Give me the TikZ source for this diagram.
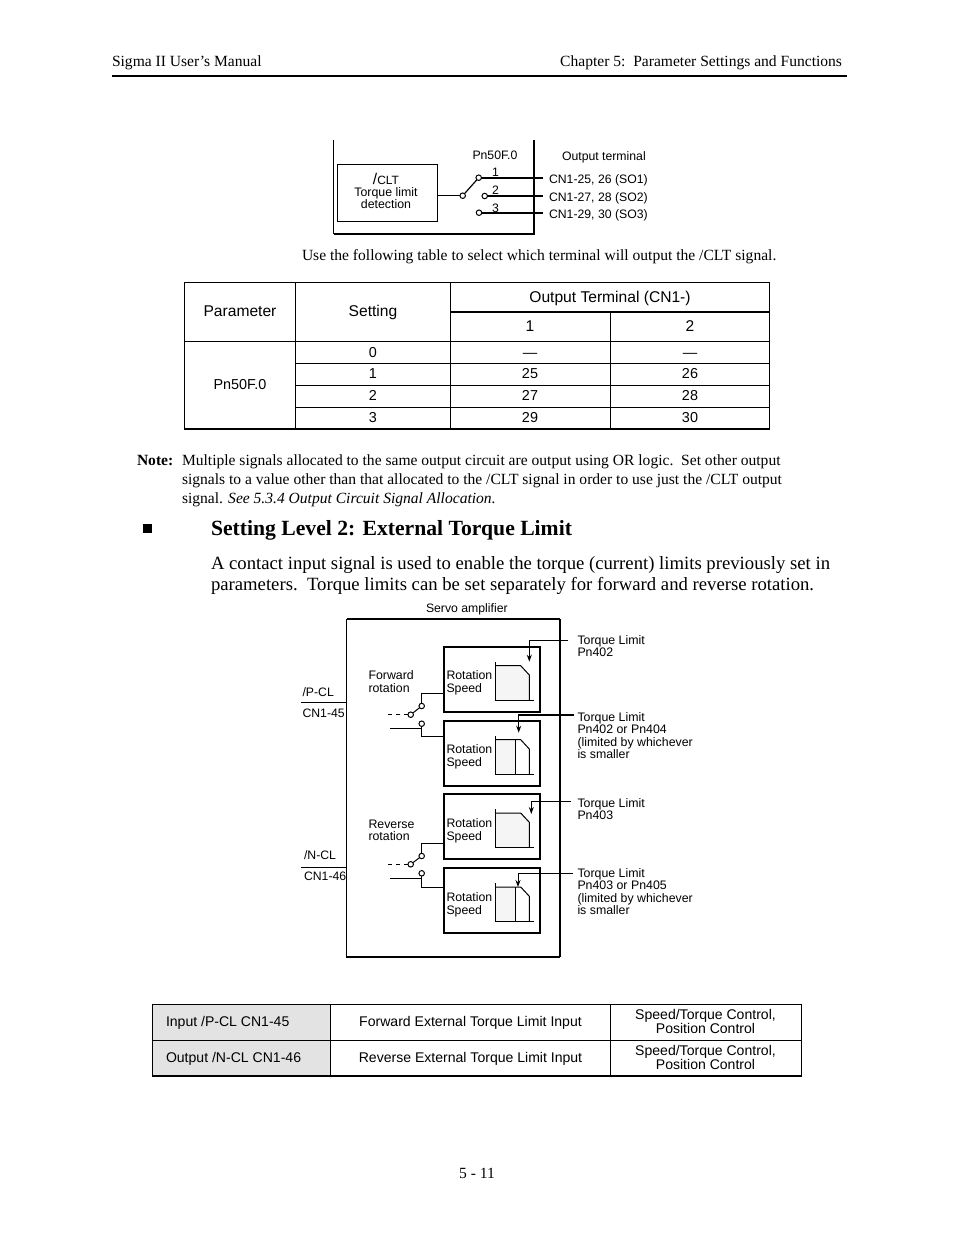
\documentclass[tikz,border=0pt]{standalone}
\usepackage{fontspec}
\setmainfont{Liberation Serif}
\setsansfont{Liberation Sans}
\usetikzlibrary{arrows.meta}
\newcommand{\fs}[2]{\fontsize{#1pt}{#2pt}\selectfont}
\tikzset{
  every node/.style={outer sep=0pt},
  page/.style={inner sep=0pt,anchor=base west,font=\fs{15.56}{19}},
  lab/.style={inner sep=0pt,anchor=base west,font=\sffamily\fs{12.25}{12}},
  mlab/.style={inner sep=0pt,anchor=north west,align=left,font=\sffamily\fs{12.35}{12.4}},
  tbl/.style={inner sep=0pt,anchor=base,font=\sffamily\fs{14.4}{14}},
  tbs/.style={inner sep=0pt,anchor=base,font=\sffamily\fs{14.05}{14}},
  hdr/.style={inner sep=0pt,anchor=base,font=\sffamily\fs{15.6}{14}},
  tline/.style={line width=1pt,black},
  tedge/.style={line width=1.7pt,black},
  wire/.style={line width=1pt,black},
  contact/.style={circle,draw=black,fill=white,line width=1pt,minimum size=5.5pt,inner sep=0pt},
  tip/.style={-{Stealth[length=7pt,width=5pt]}},
  curve/.style={line width=1pt,black},
  shade/.style={fill=black!4,draw=none},
}
\begin{document}
\begin{tikzpicture}[x=1pt,y=-1pt]
\useasboundingbox (0,0) rectangle (954,1235);
% header
\node[page] (h1) at (112,66) {Sigma II User’s Manual};
\node[page,anchor=base east] (h2) at (842,66) {Chapter 5:\ \ Parameter Settings and Functions};
\coordinate (rl) at (112,76); \coordinate (rr) at (847,76);
\draw[line width=2pt] (rl) -- (rr);
% top diagram
\coordinate (a1) at (333.5,140); \coordinate (a2) at (333.5,233.5); \coordinate (a3) at (533.5,233.5); \coordinate (a4) at (533.5,140);
\draw[line width=1.2pt] (a1) -- (a2);
\draw[line width=2pt] (a2) -- (a3) -- (a4);
\node[draw,line width=1pt,minimum width=100pt,minimum height=57.5pt,inner sep=0pt] (clt) at (387,193.2) {};
\node[inner sep=0pt,align=center,anchor=north,font=\sffamily\fs{12.35}{12}] (cltt) at (386,173.5) {{\fs{15.5}{12}/}{\fs{12}{12}CLT}\\Torque limit\\detection};
\node[contact] (sp) at (462.7,195.7) {};
\node[contact] (s1) at (478.7,177.7) {};
\node[contact] (s2) at (484.7,196) {};
\node[contact] (s3) at (479,212.7) {};
\coordinate (o1) at (543,177.7); \coordinate (o2) at (543,196); \coordinate (o3) at (543,212.7);
\draw[wire,line width=1.4pt] (clt.east |- sp) -- (sp);
\draw[wire,line width=1.2pt] (sp) -- (s1);
\draw[wire,line width=1.6pt] (s1) -- (o1);
\draw[wire,line width=2.2pt] (s2) -- (o2);
\draw[wire,line width=2.2pt] (s3) -- (o3);
\node[lab] (pn) at (472.5,159.5) {Pn50F.0};
\node[lab] (n1) at (492,176) {1};
\node[lab] (n2) at (492,194) {2};
\node[lab] (n3) at (492,212) {3};
\node[lab] (ot) at (562,160) {Output terminal};
\node[lab] (c1) at (549,183) {CN1-25, 26 (SO1)};
\node[lab] (c2) at (549,201) {CN1-27, 28 (SO2)};
\node[lab] (c3) at (549,218) {CN1-29, 30 (SO3)};
\node[page] (use) at (302,260) {Use the following table to select which terminal will output the /CLT signal.};
% table 1
\coordinate (t1a) at (184.3,282.3); \coordinate (t1c) at (769.5,429.2); \coordinate (t1d) at (184.3,429.2);
\draw[tline] (t1a) rectangle (t1c);
\draw[tline] (295.4,282.3) -- (295.4,429.2);
\draw[tline] (450.6,282.3) -- (450.6,429.2);
\draw[tline] (610.5,312) -- (610.5,429.2);
\draw[tline,line width=1.6pt] (450.6,312) -- (769.5,312);
\draw[tline] (184.3,341.2) -- (769.5,341.2);
\draw[tline] (295.4,363.3) -- (769.5,363.3);
\draw[tline] (295.4,385.3) -- (769.5,385.3);
\draw[tline] (295.4,407.3) -- (769.5,407.3);
\draw[tedge] (t1d) -- (t1c);
\node[hdr] (p1) at (240,316) {Parameter};
\node[hdr] (p2) at (373,316) {Setting};
\node[hdr] (p3) at (610,302) {Output Terminal (CN1-)};
\node[hdr] (p4) at (530,331) {1};
\node[hdr] (p5) at (690,331) {2};
\node[tbl] (pv) at (240,389) {Pn50F.0};
\foreach \r/\y/\s/\aa/\bb in {0/357/0/—/—,1/378/1/25/26,2/400/2/27/28,3/422/3/29/30}{
  \node[tbl] (s\r) at (373,\y) {\s};
  \node[tbl] (u\r) at (530,\y) {\aa};
  \node[tbl] (v\r) at (690,\y) {\bb};
}
% note
\node[page,font=\bfseries\fs{15.56}{19}] (note) at (137,465) {Note:};
\node[page,anchor=north west,align=left] (nt) at (182,454.5) {Multiple signals allocated to the same output circuit are output using OR logic.\ \ Set other output\\signals to a value other than that allocated to the /CLT signal in order to use just the /CLT output\\signal. \textit{See 5.3.4 Output Circuit Signal Allocation.}};
% heading
\node[fill=black,minimum size=8.5pt,inner sep=0pt] (bul) at (147.5,528.5) {};
\node[page,font=\bfseries\fs{21.66}{25}] (head) at (211,535) {Setting Level 2: External Torque Limit};
\node[page,anchor=north west,align=left,font=\fs{18.7}{21.3}] (para) at (211,556.3) {A contact input signal is used to enable the torque (current) limits previously set in\\parameters.\ \ Torque limits can be set separately for forward and reverse rotation.};
% main diagram
\node[lab] (sa) at (426,612) {Servo amplifier};
\coordinate (m1) at (346.7,619); \coordinate (m2) at (560,619); \coordinate (m3) at (560,957); \coordinate (m4) at (346.7,957);
\draw[line width=1.2pt] (m1) -- (m4) -- (m3);
\draw[line width=1.6pt] (m1) -- (m2);
\draw[line width=1.8pt] (m2) -- (m3);
\foreach \n/\y in {1/646.7,2/720.7,3/794,4/868}{
  \node[draw,line width=1.8pt,minimum width=96.5pt,minimum height=65pt,inner sep=0pt,anchor=north west] (b\n) at (443.7,\y) {};
  \node[inner sep=0pt,anchor=north west,align=left,font=\sffamily\fs{12.3}{13}] (bt\n) at (446.5,\y+24.3) {Rotation\\Speed};
}
% charts with torque curves (tall)
\foreach \y in {646.7,794}{
  \fill[shade] (495.3,\y+19) -- (520.7,\y+19) -- (529.3,\y+28.3) -- (529.3,\y+53.3) -- (495.3,\y+53.3) -- cycle;
  \draw[curve] (495.3,\y+15.3) -- (495.3,\y+53.3) -- (534,\y+53.3);
  \draw[curve] (495.3,\y+19) -- (520.7,\y+19) -- (529.3,\y+28.3) -- (529.3,\y+53.3);
}
\foreach \y in {720.7,868}{
  \fill[shade] (495.3,\y+19) -- (515.7,\y+19) -- (515.7,\y+53.3) -- (495.3,\y+53.3) -- cycle;
  \draw[curve] (495.3,\y+15.3) -- (495.3,\y+53.3) -- (534,\y+53.3);
  \draw[curve] (495.3,\y+19) -- (520.7,\y+19) -- (529.3,\y+28.3) -- (529.3,\y+53.3);
  \draw[curve] (515.7,\y+19) -- (515.7,\y+53.3);
}
% limit arrows
\coordinate (l1) at (568.3,640); \coordinate (e1) at (529.3,661.7);
\coordinate (l2) at (574.3,715); \coordinate (e2) at (518.7,732.7);
\coordinate (l3) at (571,801); \coordinate (e3) at (531.3,814);
\coordinate (l4) at (573,873.7); \coordinate (e4) at (518,887);
\draw[wire,tip] (l1) -| (e1);
\draw[wire,tip,line width=1.4pt] (l2) -| (e2);
\draw[wire,tip] (l3) -| (e3);
\draw[wire,tip] (l4) -| (e4);
% switches
\node[contact] (ft) at (421.7,706) {};
\node[contact] (fp) at (410.7,714.7) {};
\node[contact] (fb) at (421.7,723.7) {};
\coordinate (fd) at (386.7,714.7); \coordinate (fw) at (390,728.3);
\coordinate (fu) at (443.7,693.7); \coordinate (fl) at (443.7,736);
\draw[wire] (ft) -- (fp);
\draw[wire,dash pattern=on 4pt off 4pt] (fp) -- (fd);
\draw[wire] (ft) |- (fu);
\draw[wire] (fb) |- (fl);
\draw[wire] (fw) -- (fw -| fb);
\node[contact] (rt) at (421.7,856) {};
\node[contact] (rp) at (410.7,864.3) {};
\node[contact] (rb) at (421.7,873.3) {};
\coordinate (rd) at (386.7,864.3); \coordinate (rw) at (390,878.3);
\coordinate (ru) at (443.7,843.3); \coordinate (rl2) at (443.7,887.3);
\draw[wire] (rt) -- (rp);
\draw[wire,dash pattern=on 4pt off 4pt] (rp) -- (rd);
\draw[wire] (rt) |- (ru);
\draw[wire] (rb) |- (rl2);
\draw[wire] (rw) -- (rw -| rb);
% signal wires
\coordinate (pw) at (301,702.7); \coordinate (nw) at (301,867.3);
\draw[wire,line width=1.5pt] (pw) -- (pw -| m1);
\draw[wire,line width=.8pt] (nw) -- (nw -| m1);
\node[lab] (pcl) at (302.5,696) {/P-CL};
\node[lab] (cn45) at (302.5,717) {CN1-45};
\node[lab] (ncl) at (304,859) {/N-CL};
\node[lab] (cn46) at (304,880) {CN1-46};
\node[mlab,font=\sffamily\fs{12.35}{13}] (fr) at (368.5,670.3) {Forward\\rotation};
\node[mlab] (rr2) at (368.5,819.5) {Reverse\\rotation};
\node[mlab] (tl1) at (577.5,635.5) {Torque Limit\\Pn402};
\node[mlab] (tl2) at (577.5,712.5) {Torque Limit\\Pn402 or Pn404\\(limited by whichever\\is smaller};
\node[mlab] (tl3) at (577.5,798.5) {Torque Limit\\Pn403};
\node[mlab] (tl4) at (577.5,868.5) {Torque Limit\\Pn403 or Pn405\\(limited by whichever\\is smaller};
% table 2
\fill[black!11] (153,1004.5) rectangle (330.5,1076);
\coordinate (t2a) at (152.7,1004.5); \coordinate (t2c) at (801.5,1076);
\draw[tline] (t2a) rectangle (t2c);
\draw[tline] (330.5,1004.5) -- (330.5,1076);
\draw[tline] (610.5,1004.5) -- (610.5,1076);
\draw[tline] (152.7,1040) -- (801.5,1040);
\draw[tedge] (t2a) -- (t2a -| t2c);
\draw[tedge] (t2c -| t2a) -- (t2c);
\node[tbs,anchor=base west] (q1) at (166,1026) {Input /P-CL CN1-45};
\node[tbs] (q2) at (470.5,1026) {Forward External Torque Limit Input};
\node[tbs,align=center,anchor=center] (q3) at (705.5,1021.5) {Speed/Torque Control,\\Position Control};
\node[tbs,anchor=base west] (q4) at (166,1062) {Output /N-CL CN1-46};
\node[tbs] (q5) at (470.5,1062) {Reverse External Torque Limit Input};
\node[tbs,align=center,anchor=center] (q6) at (705.5,1057.5) {Speed/Torque Control,\\Position Control};
\node[page,anchor=base] (foot) at (477,1178) {5 - 11};
\end{tikzpicture}
\end{document}
